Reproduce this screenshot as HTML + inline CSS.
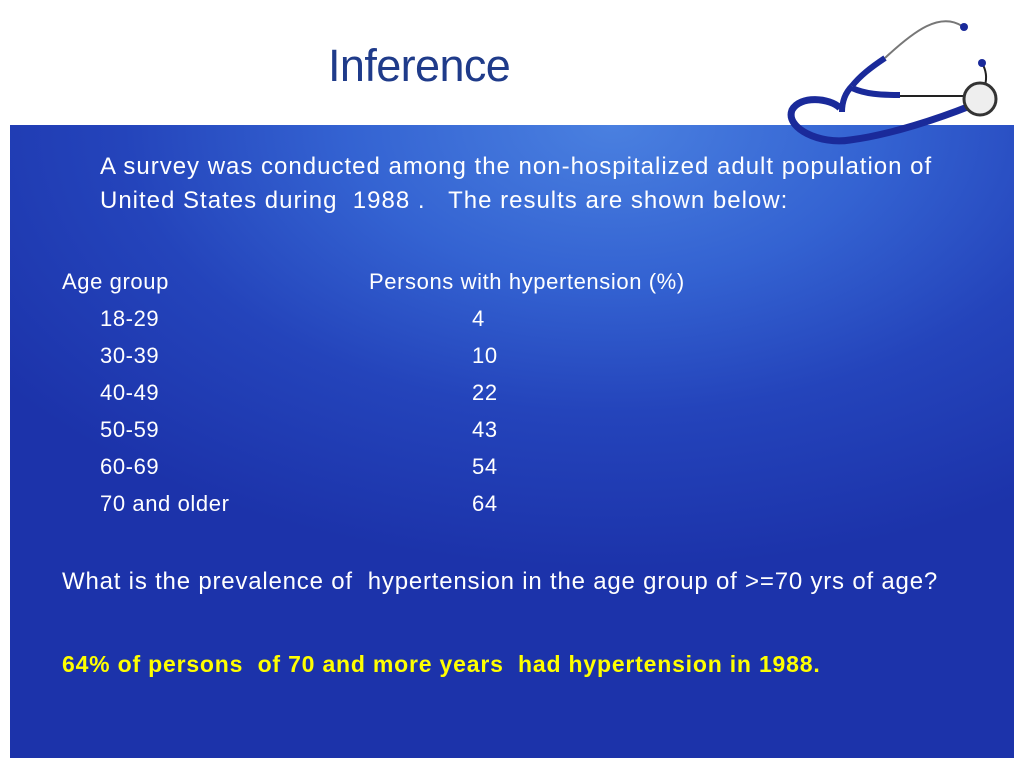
<!DOCTYPE html>
<html><head><meta charset="utf-8"><style>
html,body{margin:0;padding:0;width:1024px;height:768px;overflow:hidden;background:#fff;font-family:"Liberation Sans",sans-serif;}
#title{position:absolute;left:328px;top:40px;font-size:45px;color:#1f3b8a;letter-spacing:-0.6px;}
#panel{position:absolute;left:10px;top:125px;width:1004px;height:633px;
background:radial-gradient(ellipse 75% 70% at 60% 0%,#4a80e0 0%,#3463d2 35%,#2444bb 65%,#1c33aa 100%);}
.t{position:absolute;color:#fff;font-size:24px;white-space:nowrap;letter-spacing:1px;}
.s{font-size:22px;letter-spacing:0.6px;}
.y{color:#ffff00;font-weight:bold;font-size:23px;letter-spacing:0.8px;}
</style></head><body>
<div id="title">Inference</div>
<div id="panel"></div>
<svg style="position:absolute;left:780px;top:0" width="244" height="160">
<path d="M60 108 C50 98,20 95,12 110 C5 128,40 145,70 140 C110 135,160 118,190 106" fill="none" stroke="#1a2a9a" stroke-width="7"/>
<path d="M62 112 C62 100,66 92,72 86" fill="none" stroke="#1a2a9a" stroke-width="6"/>
<path d="M72 86 C80 76,90 68,105 58" fill="none" stroke="#1a2a9a" stroke-width="6"/>
<path d="M72 88 C85 94,100 95,120 95" fill="none" stroke="#1a2a9a" stroke-width="6"/>
<path d="M105 58 C135 30,160 12,182 26" fill="none" stroke="#777" stroke-width="2"/>
<path d="M120 96 L185 96" fill="none" stroke="#222" stroke-width="2"/>
<path d="M205 85 C207 78,206 70,202 63" fill="none" stroke="#222" stroke-width="2"/>
<circle cx="184" cy="27" r="4" fill="#1a2a9a"/><circle cx="202" cy="63" r="4" fill="#1a2a9a"/>
<circle cx="200" cy="99" r="16" fill="#eee" stroke="#333" stroke-width="3"/>
</svg>
<div class="t" style="left:100px;top:153px">A survey was conducted among the non-hospitalized adult population of</div>
<div class="t" style="left:100px;top:187px">United States during&nbsp; 1988 .&nbsp;&nbsp; The results are shown below:</div>
<div class="t s" style="left:62px;top:269px">Age group</div>
<div class="t s" style="left:369px;top:269px">Persons with hypertension (%)</div>
<div class="t s" style="left:100px;top:306px">18-29</div><div class="t s" style="left:472px;top:306px">4</div>
<div class="t s" style="left:100px;top:343px">30-39</div><div class="t s" style="left:472px;top:343px">10</div>
<div class="t s" style="left:100px;top:380px">40-49</div><div class="t s" style="left:472px;top:380px">22</div>
<div class="t s" style="left:100px;top:417px">50-59</div><div class="t s" style="left:472px;top:417px">43</div>
<div class="t s" style="left:100px;top:454px">60-69</div><div class="t s" style="left:472px;top:454px">54</div>
<div class="t s" style="left:100px;top:491px">70 and older</div><div class="t s" style="left:472px;top:491px">64</div>
<div class="t" style="left:62px;top:568px;letter-spacing:0.8px">What is the prevalence of&nbsp; hypertension in the age group of &gt;=70 yrs of age?</div>
<div class="t y" style="left:62px;top:651px">64% of persons&nbsp; of 70 and more years&nbsp; had hypertension in 1988.</div>
</body></html>
